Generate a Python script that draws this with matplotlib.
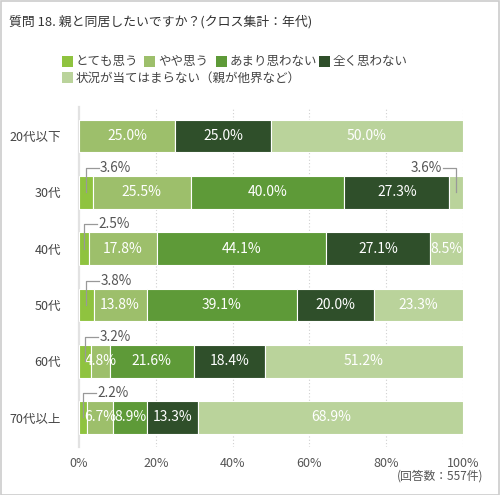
import numpy as np
import matplotlib
matplotlib.use('Agg')
import matplotlib.pyplot as plt
from matplotlib.patches import Rectangle

plt.rcParams['font.family'] = ['Noto Sans CJK JP', 'DejaVu Sans']

# ---- data ----
ages = ['20代以下', '30代', '40代', '50代', '60代', '70代以上']
series = ['とても思う', 'やや思う', 'あまり思わない', '全く思わない', '状況が当てはまらない（親が他界など）']
colors = ['#8fc33f', '#9dbf6b', '#5e9a38', '#2f4f2a', '#bad39b']

very = [0.0, 3.6, 2.5, 3.8, 3.2, 2.2]
somewhat = [25.0, 25.5, 17.8, 13.8, 4.8, 6.7]
not_much = [0.0, 40.0, 44.1, 39.1, 21.6, 8.9]
not_at_all = [25.0, 27.3, 27.1, 20.0, 18.4, 13.3]
n_a = [50.0, 3.6, 8.5, 23.3, 51.2, 68.9]

# small segments labelled with a callout: (row, series index, side)
callouts = [(1, 0, 'right'), (1, 4, 'left'), (2, 0, 'right'), (3, 0, 'right'),
            (4, 0, 'right'), (5, 0, 'right')]

vals = np.array([very, somewhat, not_much, not_at_all, n_a])
vals = vals / vals.sum(axis=0) * 100  # 100% stacked
shown = np.array([very, somewhat, not_much, not_at_all, n_a])

W, H = 500, 495
fig = plt.figure(figsize=(W / 100, H / 100), dpi=100)

# outer border
fig.add_artist(Rectangle((0.5 / W, 0.5 / H), 1 - 1.5 / W, 1 - 1.5 / H, transform=fig.transFigure,
                         fill=False, edgecolor='#cccccc', lw=1.2))

fig.text(9 / W, 1 - 22 / H, '質問 18. 親と同居したいですか？(クロス集計：年代)',
         fontsize=9.3, color='#333333', va='center', ha='left')

# legend
leg_pos = [(62, 62), (144, 62), (216, 62), (319, 62), (62, 78)]
for (lx, ly), name, c in zip(leg_pos, series, colors):
    fig.add_artist(Rectangle((lx / W, 1 - (ly + 5) / H), 11 / W, 10.5 / H,
                             transform=fig.transFigure, facecolor=c, edgecolor='none'))
    fig.text((lx + 14) / W, 1 - ly / H, name, fontsize=9, color='#444444', va='center', ha='left')

ax = fig.add_axes([79 / W, 1 - 447 / H, 384 / W, 340 / H])
y = np.arange(len(ages))
left = np.zeros(len(ages))
for k in range(len(series)):
    ax.barh(y, vals[k], left=left, height=0.58, color=colors[k], edgecolor='white',
            linewidth=0.8, zorder=3)
    for i in range(len(ages)):
        if shown[k, i] == 0:
            continue
        if any(r == i and s == k for r, s, _ in callouts):
            continue
        ax.text(left[i] + vals[k, i] / 2, y[i], f'{shown[k, i]:.1f}%', ha='center', va='center',
                color='white', fontsize=10, zorder=4)
    left = left + vals[k]

# callouts
starts = np.vstack([np.zeros(len(ages)), np.cumsum(vals, axis=0)[:-1]])
for i, k, side in callouts:
    xc = starts[k, i] + vals[k, i] / 2
    ytop = y[i] - 0.43
    dx = 3.4 if side == 'right' else -3.4
    ax.plot([xc, xc, xc + dx], [y[i], ytop, ytop], color='#999999', lw=0.9, zorder=5,
            clip_on=False)
    ax.text(xc + dx + (0.3 if side == 'right' else -0.3), ytop, f'{shown[k, i]:.1f}%',
            ha='left' if side == 'right' else 'right', va='center', color='#555555', fontsize=9.8,
            zorder=5)

ax.set_xlim(0, 100)
ax.set_ylim(5.524, -0.515)
ax.set_yticks(y)
ax.set_yticklabels(ages)
ax.set_xticks([0, 20, 40, 60, 80, 100])
ax.set_xticklabels(['0%', '20%', '40%', '60%', '80%', '100%'])
ax.tick_params(axis='both', length=0, labelsize=9, colors='#555555')
ax.tick_params(axis='x', pad=7)
ax.tick_params(axis='y', pad=13, labelcolor='#444444')
for s in ['top', 'right', 'bottom']:
    ax.spines[s].set_visible(False)
ax.spines['left'].set_color('#e2e2e2')
ax.spines['left'].set_linewidth(1.6)
for gx in [20, 40, 60, 80, 100]:
    ax.axvline(gx, color='#d0d0d0', lw=0.8, ls=(0, (1, 2)), zorder=1)

fig.text(483 / W, 1 - 476 / H, '(回答数：557件)', fontsize=8.5, color='#555555', ha='right', va='center')

fig.savefig('out.png', dpi=100)
